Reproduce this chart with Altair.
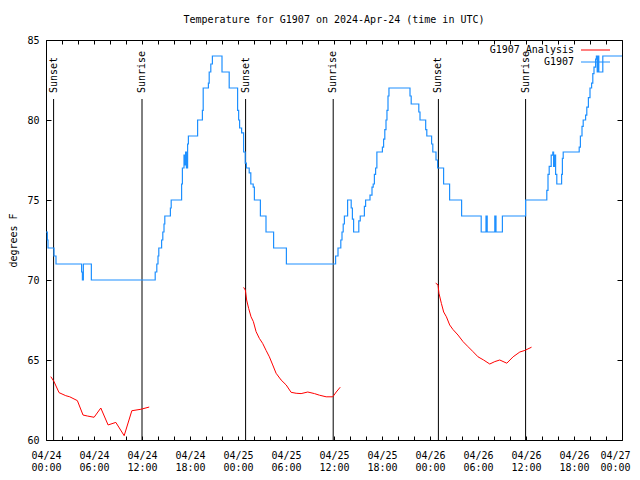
import altair as alt
import pandas as pd

# ---------------- data (hours since 2024-04-24 00:00 UTC) ----------------
BLUE_HOURS = [0.0, 0.17, 0.25, 1.0, 1.25, 4.45, 4.55, 4.67, 5.67, 13.65,
              13.85, 14.0, 14.1, 14.45, 14.6, 14.75, 14.85, 15.55, 15.65, 16.95,
              17.05, 17.25, 17.35, 17.45, 17.55, 17.7, 17.8, 18.95, 19.55, 19.65,
              20.3, 20.4, 20.6, 20.8, 22.0, 22.9, 23.95, 24.08, 24.2, 24.45,
              24.7, 24.9, 25.05, 25.4, 25.6, 25.9, 26.05, 26.8, 27.5, 28.45,
              30.05, 36.2, 36.5, 36.85, 37.0, 37.15, 37.3, 37.7, 38.15, 38.3,
              38.45, 39.1, 39.28, 39.8, 39.95, 40.5, 40.75, 40.9, 41.05, 41.2,
              41.36, 42.05, 42.2, 42.35, 42.5, 42.62, 42.75, 42.87, 45.5, 45.65,
              46.6, 46.75, 47.46, 47.6, 48.2, 48.35, 48.75, 48.95, 49.7, 50.45,
              51.95, 54.4, 55.0, 55.15, 56.1, 56.25, 57.05, 59.95, 62.6, 62.75,
              62.9, 63.15, 63.35, 63.45, 63.55, 63.7, 63.85, 64.45, 64.55, 64.65,
              66.65, 66.8, 67.0, 67.15, 67.45, 67.6, 67.8, 68.0, 68.2, 68.35,
              68.5, 68.7, 68.8, 68.9, 69.0, 69.1, 69.6, 72.0]
BLUE_TEMPS = [73, 72.5, 72, 71.5, 71, 70.5, 70, 71, 70, 70.5,
              71, 71.5, 72, 72.5, 73, 73.5, 74, 74.5, 75, 76,
              77, 77.8, 77.2, 78, 77, 78.5, 79, 80, 80.6, 82,
              82.3, 83, 83.5, 84, 83, 82, 80.6, 80, 79.5, 79.2,
              78, 77.3, 77, 76.7, 76, 75.8, 75, 74, 73, 72,
              71, 71.5, 72, 72.5, 73, 73.5, 74, 75, 74.5, 73.8,
              73, 73.7, 74, 74.6, 75, 75.3, 75.8, 76, 76.6, 77,
              78, 78.3, 78.8, 79.4, 80, 80.6, 81.5, 82, 81.5, 81,
              80.5, 80, 79.4, 79, 78.5, 78, 77.5, 77, 76, 75,
              74, 73, 74, 73, 74, 73, 74, 75, 75.6, 76.6,
              77.1, 77.8, 78, 77.1, 77.8, 76.6, 76, 76.6, 77.6, 78,
              78.3, 79, 79.6, 80, 80.3, 80.8, 81.4, 82, 82.3, 82.9,
              83.3, 83.8, 84, 83, 84, 83, 84, 84]

RED1_HOURS = [0.6, 1.0, 1.63, 2.47, 2.97, 3.92, 4.63, 5.17, 6.01, 6.85,
              7.76, 8.73, 9.77, 10.73, 11.86, 12.9]
RED1_TEMPS = [63.96, 63.65, 62.96, 62.77, 62.7, 62.46, 61.56, 61.5, 61.42, 62.0,
              60.94, 61.1, 60.27, 61.83, 61.92, 62.06]
RED2_HOURS = [24.7, 24.92, 25.08, 25.33, 25.63, 25.92, 26.26, 26.67, 27.08, 27.51,
              27.92, 28.34, 28.76, 29.39, 30.02, 30.64, 31.27, 31.89, 32.72, 33.56,
              34.18, 35.02, 35.85, 36.28, 36.78]
RED2_TEMPS = [69.54, 69.37, 68.75, 68.23, 67.7, 67.4, 66.77, 66.35, 66.04, 65.6,
              65.2, 64.69, 64.17, 63.75, 63.44, 62.98, 62.92, 62.9, 63.0, 62.9,
              62.8, 62.7, 62.7, 63.0, 63.3]
RED3_HOURS = [48.71, 49.0, 49.12, 49.42, 49.71, 50.05, 50.46, 50.88, 51.5, 52.13,
              52.76, 53.38, 54.0, 54.7, 55.47, 56.1, 56.72, 57.6, 58.39, 59.23,
              59.86, 60.69]
RED3_TEMPS = [69.8, 69.7, 69.17, 68.54, 68.0, 67.7, 67.19, 66.9, 66.56, 66.15,
              65.83, 65.52, 65.2, 65.0, 64.75, 64.9, 65.0, 64.8, 65.2, 65.5,
              65.6, 65.8]

SUN_HOURS = [0.95, 12.0, 24.95, 35.9, 49.05, 59.95]
SUN_EVENTS = ["Sunset", "Sunrise", "Sunset", "Sunrise", "Sunset", "Sunrise"]

X_TICKS = list(range(0, 73, 2))
X_LABEL_HOURS = [0, 6, 12, 18, 24, 30, 36, 42, 48, 54, 60, 66, 72]
X_LABEL_DATES = ["04/24", "04/24", "04/24", "04/24", "04/25", "04/25", "04/25",
                 "04/25", "04/26", "04/26", "04/26", "04/26", "04/27"]
X_LABEL_TIMES = ["00:00", "06:00", "12:00", "18:00", "00:00", "06:00", "12:00",
                 "18:00", "00:00", "06:00", "12:00", "18:00", "00:00"]
Y_TICKS = [60, 65, 70, 75, 80, 85]

LEGEND_NAMES = ["G1907 Analysis", "G1907"]
LEGEND_COLORS = ["#ff0000", "#1e90ff"]

TITLE = "Temperature for G1907 on 2024-Apr-24 (time in UTC)"
FONT = "DejaVu Sans Mono"

# ---------------- frames ----------------
blue = pd.DataFrame({"hour": BLUE_HOURS, "temp": BLUE_TEMPS})
red = pd.concat([
    pd.DataFrame({"hour": RED1_HOURS, "temp": RED1_TEMPS, "seg": 1}),
    pd.DataFrame({"hour": RED2_HOURS, "temp": RED2_TEMPS, "seg": 2}),
    pd.DataFrame({"hour": RED3_HOURS, "temp": RED3_TEMPS, "seg": 3}),
])
sun = pd.DataFrame({"hour": SUN_HOURS, "event": SUN_EVENTS})

xscale = alt.Scale(domain=[0, 72], nice=False, zero=False)
yscale = alt.Scale(domain=[60, 85], nice=False, zero=False)

label_expr = "''"
for h, d, t in reversed(list(zip(X_LABEL_HOURS, X_LABEL_DATES, X_LABEL_TIMES))):
    label_expr = f"datum.value == {h} ? ['{d}', '{t}'] : ({label_expr})"

common = dict(domain=False, grid=False, tickColor="black", labelColor="black",
              labelFont=FONT, labelFontSize=10, titleFont=FONT, titleFontSize=10,
              titleFontWeight="normal", titleColor="black")

# last label nudged left so it stays inside the page
last_label_offset = {"condition": {"test": f"datum.value == {X_LABEL_HOURS[-1]}", "value": -7},
                     "value": 0}

x_bottom = alt.Axis(orient="bottom", values=X_TICKS, offset=-4, tickSize=4,
                    labelExpr=label_expr, labelPadding=10, labelLineHeight=12,
                    labelOffset=last_label_offset,
                    labelOverlap=False, labelFlush=False, title=None, **common)
y_left = alt.Axis(orient="left", values=Y_TICKS, offset=-5, tickSize=5,
                  labelPadding=7, title="degrees F", titlePadding=8, **common)
x_top = alt.Axis(orient="top", values=X_TICKS, offset=-4, tickSize=4,
                 labels=False, title=None, **common)
y_right = alt.Axis(orient="right", values=Y_TICKS, offset=-5, tickSize=5,
                   labels=False, title=None, **common)

blue_line = alt.Chart(blue).mark_line(
    interpolate="step-after", color="#1e90ff", strokeWidth=1.2
).encode(
    x=alt.X("hour:Q", scale=xscale, axis=x_bottom),
    y=alt.Y("temp:Q", scale=yscale, axis=y_left),
)

red_line = alt.Chart(red).mark_line(color="#ff0000", strokeWidth=1).encode(
    x=alt.X("hour:Q", scale=xscale, axis=x_top),
    y=alt.Y("temp:Q", scale=yscale, axis=y_right),
    detail="seg:N",
)

sun_rules = alt.Chart(sun).mark_rule(color="black", strokeWidth=1).encode(
    x=alt.X("hour:Q", scale=xscale, axis=None),
    y=alt.value(59), y2=alt.value(400),
)
sun_text = alt.Chart(sun).mark_text(
    angle=270, align="left", baseline="middle", font=FONT, fontSize=10, color="black"
).encode(
    x=alt.X("hour:Q", scale=xscale, axis=None),
    y=alt.value(53),
    text="event:N",
)

legend_layers = []
for i, (name, col) in enumerate(zip(LEGEND_NAMES, LEGEND_COLORS)):
    ypos = 10 + 12 * i
    legend_layers.append(
        alt.Chart(pd.DataFrame({"name": [name]})).mark_text(
            align="right", baseline="middle", font=FONT, fontSize=10, color="black"
        ).encode(x=alt.value(528), y=alt.value(ypos), text="name:N")
    )
    legend_layers.append(
        alt.Chart(pd.DataFrame({"name": [name]})).mark_rule(color=col, strokeWidth=1).encode(
            x=alt.value(535), x2=alt.value(564), y=alt.value(ypos)
        )
    )

chart = alt.layer(sun_rules, sun_text, red_line, blue_line, *legend_layers).resolve_axis(
    x="independent", y="independent"
).properties(
    width=576, height=400,
    autosize="none",
    padding={"left": 38, "top": 32, "right": 10, "bottom": 32},
    title=alt.TitleParams(TITLE, font=FONT, fontSize=10, fontWeight="normal",
                          color="black", anchor="middle", baseline="bottom", offset=0),
    background="white",
).configure_view(stroke="black", strokeWidth=1)

chart.save("out.html", embed_options={"renderer": "svg", "actions": False})
